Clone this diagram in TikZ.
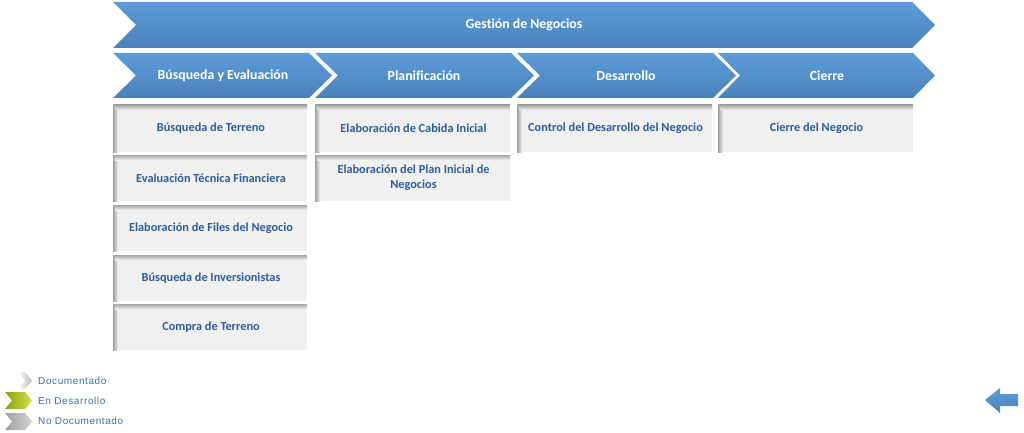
\documentclass[tikz,border=0pt]{standalone}
\usepackage{fontspec}
\setmainfont[Ligatures={NoCommon}]{Carlito}
\newfontfamily\legfont[LetterSpace=6]{Liberation Sans}
\definecolor{chevA}{HTML}{5C9CD8}
\definecolor{chevB}{HTML}{4A82BA}
\definecolor{boxfill}{HTML}{F0F0F0}
\definecolor{boxtext}{HTML}{2E5E99}
\definecolor{legtext}{HTML}{3B6EA8}
\definecolor{legG1}{HTML}{D2E04A}
\definecolor{legG2}{HTML}{8FA20E}
\tikzset{
  chev/.style={top color=chevA, bottom color=chevB, draw=none},
  chevtext/.style={text=white, font=\bfseries\fontsize{13.8}{16}\selectfont, inner sep=0pt},
  boxbase/.style={fill=boxfill, draw=none},
  boxtxt/.style={text=boxtext, font=\bfseries\fontsize{12.3}{15}\selectfont, align=center, inner sep=0pt},
  legtxt/.style={text=legtext, font=\legfont\fontsize{10}{12}\selectfont, anchor=west, inner sep=0pt},
}
\newcommand{\chevpath}[6]{% x1 x2(top corner) y1 y2 depth style
  \path[#6] (#1,#3) -- (#2,#3) -- ({#2+#5},{(#3+#4)/2}) -- (#2,#4) -- (#1,#4) -- ({#1+#5},{(#3+#4)/2}) -- cycle;}
\newcommand{\actbox}[6]{% name x1 y1 x2 y2 text
  \fill[boxfill] (#2,#3) rectangle (#4,#5);
  \shade[left color=gray!75, right color=boxfill] (#2,#3) rectangle ({#2+5},#5);
  \shade[top color=gray!70, bottom color=boxfill] ({#2+2},#3) rectangle (#4,{#3+5});
  \node[boxtxt] (#1) at ({(#2+#4)/2+1},{(#3+#5)/2}) {#6};}
\begin{document}
\begin{tikzpicture}[x=1pt,y=-1pt]
\useasboundingbox (0,0) rectangle (1024,433);
% top chevron
\chevpath{113}{912}{2}{48}{23}{chev}
\node[chevtext] (gn) at (524,25) {Gestión de Negocios};
% phase chevrons
\chevpath{113}{309}{53}{98}{23}{chev}
\chevpath{315}{511}{53}{98}{23}{chev}
\chevpath{517}{713}{53}{98}{23}{chev}
\chevpath{718}{913}{53}{98}{22}{chev}
\node[chevtext] (p1) at (223,76) {Búsqueda y Evaluación};
\node[chevtext] (p2) at (424,76) {Planificación};
\node[chevtext] (p3) at (626,76) {Desarrollo};
\node[chevtext] (p4) at (827,76) {Cierre};
% activity boxes
\actbox{a1}{113}{105}{307}{152}{Búsqueda de Terreno}
\actbox{a2}{113}{155}{307}{201}{Evaluación Técnica Financiera}
\actbox{a3}{113}{205}{307}{251}{Elaboración de Files del Negocio}
\actbox{a4}{113}{255}{307}{301}{Búsqueda de Inversionistas}
\actbox{a5}{113}{304}{307}{350}{Compra de Terreno}
\actbox{b1}{315}{105}{510}{152}{Elaboración de Cabida Inicial}
\actbox{b2}{315}{155}{510}{201}{Elaboración del Plan Inicial de\\Negocios}
\actbox{c1}{517}{105}{712}{152}{Control del Desarrollo del Negocio}
\actbox{d1}{718}{105}{913}{152}{Cierre del Negocio}
% legend
\shade[left color=white, right color=gray!55] (18,372) -- (25,372) -- (32,380.5) -- (25,389) -- (18,389) -- (25,380.5) -- cycle;
\chevpath{5}{25}{392}{409}{7}{left color=legG2, right color=legG1, draw=none}
\chevpath{5}{25}{413}{430}{7}{left color=gray!75, right color=gray!35, draw=none}
\node[legtxt] (l1) at (38,381) {Documentado};
\node[legtxt] (l2) at (38,401) {En Desarrollo};
\node[legtxt] (l3) at (38,421) {No Documentado};
% back arrow
\path[top color=chevA, bottom color=chevB] (985,400) -- (1000,388) -- (1000,394) -- (1018,394) -- (1018,406) -- (1000,406) -- (1000,413) -- cycle;
\end{tikzpicture}
\end{document}
